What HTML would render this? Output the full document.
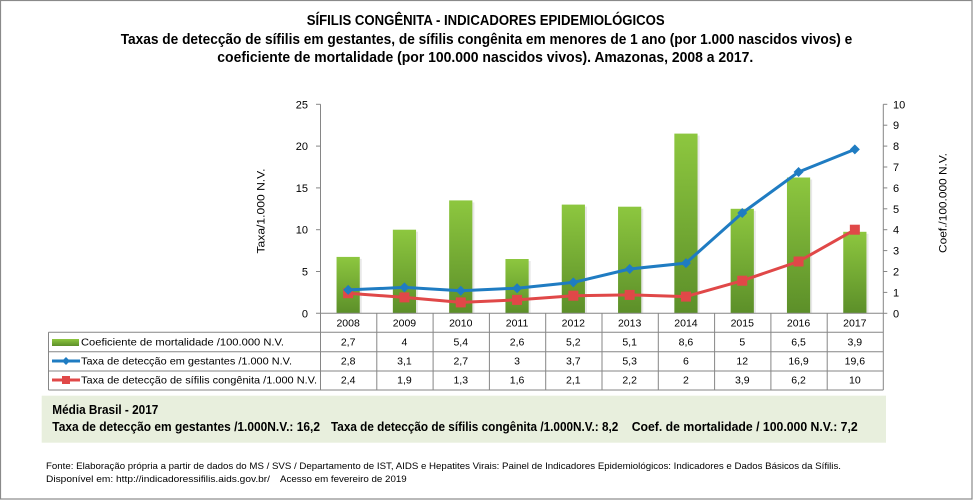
<!DOCTYPE html>
<html><head><meta charset="utf-8"><style>
html,body{margin:0;padding:0;background:#fff;}
svg{display:block;}
</style></head><body>
<svg width="973" height="500" viewBox="0 0 973 500" xmlns="http://www.w3.org/2000/svg" font-family="'Liberation Sans', sans-serif">
<defs>
<linearGradient id="bg" x1="0" y1="0" x2="0" y2="1">
<stop offset="0" stop-color="#8dc73f"/>
<stop offset="1" stop-color="#5c8f29"/>
</linearGradient>
</defs>
<rect x="0" y="0" width="973" height="500" fill="#fff"/>
<rect x="0.5" y="0.5" width="971.5" height="498.5" fill="none" stroke="#8a8a8a" stroke-width="1.2"/>

<!-- Titles -->
<g font-weight="bold" font-size="14.5" fill="#000">
<text x="306.7" y="25" textLength="358" lengthAdjust="spacingAndGlyphs">SÍFILIS CONGÊNITA - INDICADORES EPIDEMIOLÓGICOS</text>
<text x="120.7" y="44" textLength="731.6" lengthAdjust="spacingAndGlyphs">Taxas de detecção de sífilis em gestantes, de sífilis congênita em menores de 1 ano (por 1.000 nascidos vivos) e</text>
<text x="217.3" y="62" textLength="536" lengthAdjust="spacingAndGlyphs">coeficiente de mortalidade (por 100.000 nascidos vivos). Amazonas, 2008 a 2017.</text>
</g>

<!-- Bars shadows -->
<g fill="#d9d9d9" opacity="0.6">
<rect x="338.55" y="258.9" width="23.2" height="54.4"/>
<rect x="394.85" y="231.7" width="23.2" height="81.6"/>
<rect x="451.15" y="202.4" width="23.2" height="110.9"/>
<rect x="507.45" y="261.0" width="23.2" height="52.3"/>
<rect x="563.75" y="206.6" width="23.2" height="106.7"/>
<rect x="620.05" y="208.7" width="23.2" height="104.6"/>
<rect x="676.35" y="135.6" width="23.2" height="177.7"/>
<rect x="732.65" y="210.8" width="23.2" height="102.5"/>
<rect x="788.95" y="179.5" width="23.2" height="133.8"/>
<rect x="845.25" y="233.8" width="23.2" height="79.5"/>
</g>
<!-- Bars -->
<g fill="url(#bg)">
<rect x="336.55" y="256.9" width="23.2" height="56.4"/>
<rect x="392.85" y="229.7" width="23.2" height="83.6"/>
<rect x="449.15" y="200.4" width="23.2" height="112.9"/>
<rect x="505.45" y="259.0" width="23.2" height="54.3"/>
<rect x="561.75" y="204.6" width="23.2" height="108.7"/>
<rect x="618.05" y="206.7" width="23.2" height="106.6"/>
<rect x="674.35" y="133.6" width="23.2" height="179.7"/>
<rect x="730.65" y="208.8" width="23.2" height="104.5"/>
<rect x="786.95" y="177.5" width="23.2" height="135.8"/>
<rect x="843.25" y="231.8" width="23.2" height="81.5"/>
</g>

<!-- Axes -->
<g stroke="#868686" stroke-width="1" fill="none">
<line x1="320.5" y1="104.3" x2="320.5" y2="390"/>
<line x1="883.3" y1="104.3" x2="883.3" y2="390"/>
<line x1="316" y1="313.3" x2="883.3" y2="313.3"/>
<line x1="316" y1="271.5" x2="320.5" y2="271.5"/>
<line x1="316" y1="229.7" x2="320.5" y2="229.7"/>
<line x1="316" y1="187.9" x2="320.5" y2="187.9"/>
<line x1="316" y1="146.1" x2="320.5" y2="146.1"/>
<line x1="316" y1="104.3" x2="320.5" y2="104.3"/>
<line x1="883.3" y1="292.4" x2="887.3" y2="292.4"/>
<line x1="883.3" y1="271.5" x2="887.3" y2="271.5"/>
<line x1="883.3" y1="250.6" x2="887.3" y2="250.6"/>
<line x1="883.3" y1="229.7" x2="887.3" y2="229.7"/>
<line x1="883.3" y1="208.8" x2="887.3" y2="208.8"/>
<line x1="883.3" y1="187.9" x2="887.3" y2="187.9"/>
<line x1="883.3" y1="167.0" x2="887.3" y2="167.0"/>
<line x1="883.3" y1="146.1" x2="887.3" y2="146.1"/>
<line x1="883.3" y1="125.2" x2="887.3" y2="125.2"/>
<line x1="883.3" y1="104.3" x2="887.3" y2="104.3"/>
<line x1="883.3" y1="313.3" x2="887.3" y2="313.3"/>
<!-- table grid -->
<line x1="376.8" y1="313.3" x2="376.8" y2="390"/>
<line x1="433.1" y1="313.3" x2="433.1" y2="390"/>
<line x1="489.4" y1="313.3" x2="489.4" y2="390"/>
<line x1="545.7" y1="313.3" x2="545.7" y2="390"/>
<line x1="602.0" y1="313.3" x2="602.0" y2="390"/>
<line x1="658.3" y1="313.3" x2="658.3" y2="390"/>
<line x1="714.6" y1="313.3" x2="714.6" y2="390"/>
<line x1="770.9" y1="313.3" x2="770.9" y2="390"/>
<line x1="827.2" y1="313.3" x2="827.2" y2="390"/>
<line x1="48.5" y1="332.3" x2="48.5" y2="390"/>
<line x1="48.5" y1="332.3" x2="883.3" y2="332.3"/>
<line x1="48.5" y1="351.7" x2="883.3" y2="351.7"/>
<line x1="48.5" y1="371" x2="883.3" y2="371"/>
<line x1="48.5" y1="390" x2="883.3" y2="390"/>
</g>

<!-- Left axis labels -->
<g font-size="11" fill="#000" text-anchor="end">
<text x="308" y="317.3">0</text>
<text x="308" y="275.5">5</text>
<text x="308" y="233.7">10</text>
<text x="308" y="191.9">15</text>
<text x="308" y="150.1">20</text>
<text x="308" y="108.3">25</text>
</g>
<!-- Right axis labels -->
<g font-size="11" fill="#000">
<text x="893" y="317.3">0</text>
<text x="893" y="296.4">1</text>
<text x="893" y="275.5">2</text>
<text x="893" y="254.6">3</text>
<text x="893" y="233.7">4</text>
<text x="893" y="212.8">5</text>
<text x="893" y="191.9">6</text>
<text x="893" y="171.0">7</text>
<text x="893" y="150.1">8</text>
<text x="893" y="129.2">9</text>
<text x="893" y="108.3">10</text>
</g>
<!-- Axis titles -->
<text transform="translate(264.5,211) rotate(-90)" text-anchor="middle" font-size="11" fill="#000" textLength="85" lengthAdjust="spacingAndGlyphs">Taxa/1.000 N.V.</text>
<text transform="translate(946.5,203) rotate(-90)" text-anchor="middle" font-size="11" fill="#000" textLength="100" lengthAdjust="spacingAndGlyphs">Coef./100.000 N.V.</text>

<!-- Red line -->
<polyline fill="none" stroke="#e04848" stroke-width="3" stroke-linejoin="round" points="348.15,293.2 404.45,297.4 460.75,302.4 517.05,299.9 573.35,295.7 629.65,294.9 685.95,296.6 742.25,280.7 798.55,261.5 854.85,229.7"/>
<g fill="#e04848">
<rect x="343.15" y="288.2" width="10" height="10"/>
<rect x="399.45" y="292.4" width="10" height="10"/>
<rect x="455.75" y="297.4" width="10" height="10"/>
<rect x="512.05" y="294.9" width="10" height="10"/>
<rect x="568.35" y="290.7" width="10" height="10"/>
<rect x="624.65" y="289.9" width="10" height="10"/>
<rect x="680.95" y="291.6" width="10" height="10"/>
<rect x="737.25" y="275.7" width="10" height="10"/>
<rect x="793.55" y="256.5" width="10" height="10"/>
<rect x="849.85" y="224.7" width="10" height="10"/>
</g>
<!-- Blue line -->
<polyline fill="none" stroke="#1f7cc2" stroke-width="3" stroke-linejoin="round" points="348.15,289.9 404.45,287.4 460.75,290.7 517.05,288.2 573.35,282.4 629.65,269.0 685.95,263.1 742.25,213.0 798.55,172.0 854.85,149.4"/>
<g fill="#1f7cc2">
<path d="M348.15,284.9 l5,5 l-5,5 l-5,-5z"/>
<path d="M404.45,282.4 l5,5 l-5,5 l-5,-5z"/>
<path d="M460.75,285.7 l5,5 l-5,5 l-5,-5z"/>
<path d="M517.05,283.2 l5,5 l-5,5 l-5,-5z"/>
<path d="M573.35,277.4 l5,5 l-5,5 l-5,-5z"/>
<path d="M629.65,264.0 l5,5 l-5,5 l-5,-5z"/>
<path d="M685.95,258.1 l5,5 l-5,5 l-5,-5z"/>
<path d="M742.25,208.0 l5,5 l-5,5 l-5,-5z"/>
<path d="M798.55,167.0 l5,5 l-5,5 l-5,-5z"/>
<path d="M854.85,144.4 l5,5 l-5,5 l-5,-5z"/>
</g>

<!-- Table: years -->
<g font-size="10.5" fill="#000" text-anchor="middle">
<text x="348.15" y="326.5">2008</text>
<text x="404.45" y="326.5">2009</text>
<text x="460.75" y="326.5">2010</text>
<text x="517.05" y="326.5">2011</text>
<text x="573.35" y="326.5">2012</text>
<text x="629.65" y="326.5">2013</text>
<text x="685.95" y="326.5">2014</text>
<text x="742.25" y="326.5">2015</text>
<text x="798.55" y="326.5">2016</text>
<text x="854.85" y="326.5">2017</text>

<text x="348.15" y="345.3">2,7</text>
<text x="404.45" y="345.3">4</text>
<text x="460.75" y="345.3">5,4</text>
<text x="517.05" y="345.3">2,6</text>
<text x="573.35" y="345.3">5,2</text>
<text x="629.65" y="345.3">5,1</text>
<text x="685.95" y="345.3">8,6</text>
<text x="742.25" y="345.3">5</text>
<text x="798.55" y="345.3">6,5</text>
<text x="854.85" y="345.3">3,9</text>

<text x="348.15" y="364.5">2,8</text>
<text x="404.45" y="364.5">3,1</text>
<text x="460.75" y="364.5">2,7</text>
<text x="517.05" y="364.5">3</text>
<text x="573.35" y="364.5">3,7</text>
<text x="629.65" y="364.5">5,3</text>
<text x="685.95" y="364.5">6</text>
<text x="742.25" y="364.5">12</text>
<text x="798.55" y="364.5">16,9</text>
<text x="854.85" y="364.5">19,6</text>

<text x="348.15" y="383.7">2,4</text>
<text x="404.45" y="383.7">1,9</text>
<text x="460.75" y="383.7">1,3</text>
<text x="517.05" y="383.7">1,6</text>
<text x="573.35" y="383.7">2,1</text>
<text x="629.65" y="383.7">2,2</text>
<text x="685.95" y="383.7">2</text>
<text x="742.25" y="383.7">3,9</text>
<text x="798.55" y="383.7">6,2</text>
<text x="854.85" y="383.7">10</text>
</g>

<!-- Legend keys -->
<rect x="52" y="339" width="27" height="7" fill="url(#bg)"/>
<line x1="52" y1="361" x2="80" y2="361" stroke="#1f7cc2" stroke-width="3"/>
<path d="M66,357 l4,4 l-4,4 l-4,-4z" fill="#1f7cc2"/>
<line x1="52" y1="380" x2="80" y2="380" stroke="#e04848" stroke-width="3"/>
<rect x="62" y="376" width="8" height="8" fill="#e04848"/>
<g font-size="10.5" fill="#000">
<text x="81" y="345.3" textLength="203" lengthAdjust="spacingAndGlyphs">Coeficiente de mortalidade /100.000 N.V.</text>
<text x="81" y="364.5" textLength="211" lengthAdjust="spacingAndGlyphs">Taxa de detecção em gestantes /1.000 N.V.</text>
<text x="81" y="383.7" textLength="236" lengthAdjust="spacingAndGlyphs">Taxa de detecção de sífilis congênita /1.000 N.V.</text>
</g>

<!-- Green box -->
<rect x="41.7" y="395.7" width="844.3" height="47" fill="#e8efdd"/>
<g font-weight="bold" font-size="12.5" fill="#000">
<text x="52.3" y="414" textLength="106" lengthAdjust="spacingAndGlyphs">Média Brasil  - 2017</text>
<text x="52.3" y="431" textLength="267.7" lengthAdjust="spacingAndGlyphs">Taxa  de detecção  em gestantes  /1.000N.V.: 16,2</text>
<text x="331" y="431" textLength="287.3" lengthAdjust="spacingAndGlyphs">Taxa  de detecção  de sífilis  congênita  /1.000N.V.: 8,2</text>
<text x="631.7" y="431" textLength="226" lengthAdjust="spacingAndGlyphs">Coef. de  mortalidade  / 100.000 N.V.: 7,2</text>
</g>

<!-- Footer -->
<g font-size="9.5" fill="#000">
<text x="46" y="469" textLength="795" lengthAdjust="spacingAndGlyphs">Fonte: Elaboração própria a partir de dados do MS / SVS / Departamento de IST, AIDS e Hepatites Virais: Painel de Indicadores Epidemiológicos: Indicadores e Dados Básicos da Sífilis.</text>
<text x="46" y="482" textLength="224" lengthAdjust="spacingAndGlyphs">Disponível em: http://indicadoressifilis.aids.gov.br/</text>
<text x="280" y="482" textLength="126.7" lengthAdjust="spacingAndGlyphs">Acesso em fevereiro de 2019</text>
</g>
</svg>
</body></html>
